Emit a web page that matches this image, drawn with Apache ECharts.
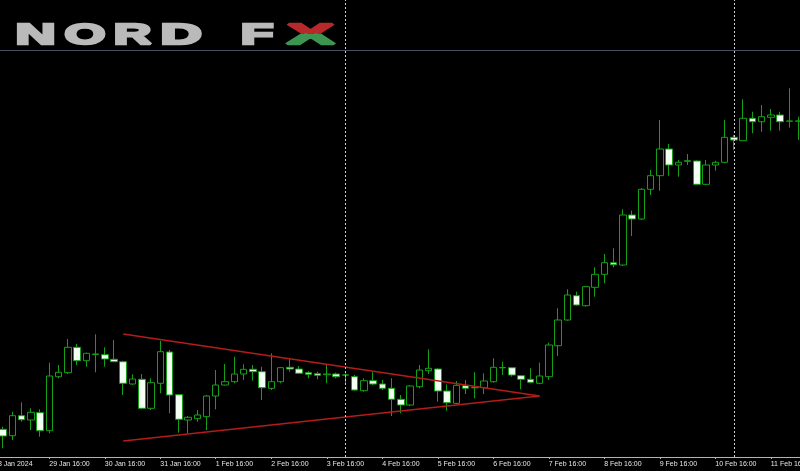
<!DOCTYPE html>
<html><head><meta charset="utf-8">
<script src="https://cdn.jsdelivr.net/npm/echarts@6/dist/echarts.min.js"></script>
<style>html,body{margin:0;padding:0;background:#000}#chart{width:800px;height:471px}</style>
</head><body><div id="chart"></div>
<script>
// 4-hour candles, first visible candle 28 Jan 2024 20:00
const startTime = Date.UTC(2024, 0, 28, 20, 0);
const candleHours = 4;
const opens  = [40554,40426,40826,40740,40886,40526,41606,41686,42194,41926,42050,42046,41954,41906,41460,41554,40974,41474,42100,41246,40740,40766,40806,41220,41440,41506,41660,41754,41706,41374,41506,41794,41760,41686,41666,41646,41660,41636,41606,41326,41526,41460,41374,41154,41040,41406,41726,41760,41320,41074,41426,41384,41386,41506,41784,41786,41626,41554,41474,41606,42226,42740,43226,43026,43394,43654,43886,43840,44840,44760,45354,45626,46160,45840,45914,45920,45454,45840,45894,46394,46326,46774,46706,46794,46840,46716,46716];
const closes = [40420,40826,40746,40894,40526,41620,41694,42194,41926,42074,42060,41960,41906,41474,41560,40974,41486,42106,41240,40754,40794,40840,41220,41440,41506,41660,41754,41706,41386,41506,41786,41760,41674,41654,41634,41660,41606,41644,41340,41526,41460,41374,41154,41040,41420,41740,41774,41320,41086,41434,41374,41390,41520,41794,41790,41640,41554,41494,41620,42240,42740,43240,43040,43406,43654,43886,43846,44840,44760,45354,45626,46160,45840,45894,45926,45454,45840,45894,46394,46340,46774,46706,46806,46840,46706,46720,46720];
const lows   = [40174,40340,40706,40540,40406,40474,41574,41660,41840,41806,41694,41806,41906,41240,41440,40954,40940,41274,40874,40486,40474,40706,40540,40954,41430,41474,41540,41526,41140,41340,41474,41706,41670,41574,41554,41474,41574,41440,41326,41306,41440,41340,40820,40874,41020,41374,41660,41106,40926,41060,41260,41174,41260,41486,41640,41606,41354,41474,41454,41540,42020,42726,43030,43006,43206,43474,43794,43820,44420,44740,45240,45326,45626,45606,45840,45450,45440,45726,45874,46140,46326,46474,46506,46526,46526,46586,46340];
const highs  = [40606,40906,41094,40974,40954,41886,41840,42360,42260,42086,42454,42194,42340,41926,41654,41660,41574,42326,42140,41260,40820,40940,41240,41740,41860,42006,41854,41840,41806,42074,41800,41960,41820,41720,41706,41860,41686,41674,41640,41574,41694,41540,41574,41240,41440,41840,42154,41774,41454,41520,41540,41694,41674,41974,41906,41800,41640,41774,41886,42286,42974,43354,43306,43420,43794,44060,44174,44954,44926,45380,45740,46740,46260,45940,46060,45930,45940,45926,46740,46440,47154,46906,47040,46960,46906,47374,46806];
const firstDateLabel = '28 Jan 2024';
const labelHour = '16:00';
const weekSeparatorIdx = [37, 79];
const triangleUpper = [[13, 42460], [58, 41220]];
const triangleLower = [[13, 40320], [58, 41220]];
const logoLetters = ['N', 'O', 'R', 'D', 'F', 'X'];

const MONTHS = ['Jan','Feb','Mar','Apr','May','Jun','Jul','Aug','Sep','Oct','Nov','Dec'];
const categories = opens.map((_, i) => {
  const d = new Date(startTime + i * candleHours * 3600e3);
  return d.getUTCDate() + ' ' + MONTHS[d.getUTCMonth()] + ' ' + String(d.getUTCHours()).padStart(2, '0') + ':00';
});
const ohlc = opens.map((o, i) => [o, closes[i], lows[i], highs[i]]);
const showLabel = (idx, val) => val.endsWith(labelHour);

const chart = echarts.init(document.getElementById('chart'), null, {renderer: 'canvas'});
chart.setOption({
  backgroundColor: '#000000',
  animation: false,
  grid: {left: -1.625, right: -3.125, top: 0, bottom: 14, containLabel: false, outerBoundsMode: 'none'},
  xAxis: {
    type: 'category',
    data: categories,
    boundaryGap: true,
    axisLine: {lineStyle: {color: '#b4b4b4', width: 1}},
    axisTick: {show: true, alignWithLabel: true, interval: showLabel, length: 2, lineStyle: {color: '#b4b4b4'}},
    axisLabel: {interval: showLabel, align: 'left', color: '#e6e6e6', fontSize: 7, fontFamily: 'Liberation Sans', margin: 4},
    splitLine: {show: false}
  },
  yAxis: {type: 'value', min: 40000, max: 49140, show: false, splitLine: {show: false}},
  series: [
    {
      type: 'candlestick',
      data: ohlc,
      barWidth: 7,
      itemStyle: {color: '#000000', color0: '#f2fff2', borderColor: '#14a014', borderColor0: '#14a014', borderWidth: 1},
      markLine: {
        silent: true,
        symbol: ['none', 'none'],
        label: {show: false},
        lineStyle: {color: '#cfcfcf', type: [2, 2], width: 1},
        data: weekSeparatorIdx.map(i => ({xAxis: categories[i]}))
      }
    },
    {type: 'line', data: triangleUpper, symbol: 'none', silent: true, lineStyle: {color: '#b41c1c', width: 1.5}, z: 3},
    {type: 'line', data: triangleLower, symbol: 'none', silent: true, lineStyle: {color: '#b41c1c', width: 1.5}, z: 3}
  ],
  graphic: [
    {type: 'line', shape: {x1: 0, y1: 50.5, x2: 800, y2: 50.5}, style: {stroke: '#46505e', lineWidth: 1}, silent: true},
    {type: 'text', x: -6, y: 461, style: {text: firstDateLabel, font: '7px "Liberation Sans"', fill: '#e6e6e6', textAlign: 'left', textVerticalAlign: 'top'}}
  ]
});

// ---- logo "NORD FX" (heavy extended lettering) ----
const letterBoxes = [[17, 38], [64, 43], [115, 39], [162, 41], [242, 33], [284, 53]];
const logoTop = 22.3;
const logoFontSize = 30;
const logoStroke = 2.5;
const logoFont = 'bold ' + logoFontSize + 'px "Liberation Sans"';
const cv = document.createElement('canvas').getContext('2d');
cv.font = logoFont;
cv.textBaseline = 'middle';
const zr = chart.getZr();
function makeLetter(ch, x, y, sx, fill, shadow) {
  return new echarts.graphic.Text({
    x: x, y: y, scaleX: sx, z: 100, silent: true,
    style: {
      text: ch, font: logoFont, align: 'left', verticalAlign: 'middle',
      fill: fill, stroke: fill, lineWidth: logoStroke,
      shadowColor: shadow ? '#4a4a4a' : 'rgba(0,0,0,0)', shadowOffsetX: -1, shadowOffsetY: 1.5, shadowBlur: 0
    }
  });
}
logoLetters.forEach((ch, i) => {
  const m = cv.measureText(ch);
  const inkW = m.actualBoundingBoxLeft + m.actualBoundingBoxRight + logoStroke;
  const sx = letterBoxes[i][1] / inkW;
  const x = letterBoxes[i][0] + (m.actualBoundingBoxLeft + logoStroke / 2) * sx;
  const y = logoTop + logoStroke / 2 + m.actualBoundingBoxAscent;
  if (ch !== 'X') {
    zr.add(makeLetter(ch, x, y, sx, '#bababa', true));
  } else {
    const capBottom = y + m.actualBoundingBoxDescent + logoStroke / 2;
    const split = (logoTop + capBottom) / 2;
    const gRed = new echarts.graphic.Group();
    gRed.add(makeLetter(ch, x, y, sx, '#b8292b', false));
    gRed.setClipPath(new echarts.graphic.Rect({shape: {x: 270, y: 0, width: 90, height: split}}));
    const gGreen = new echarts.graphic.Group();
    gGreen.add(makeLetter(ch, x, y, sx, '#3d9552', false));
    gGreen.setClipPath(new echarts.graphic.Rect({shape: {x: 270, y: split, width: 90, height: 30}}));
    zr.add(gRed);
    zr.add(gGreen);
  }
});
</script></body></html>
